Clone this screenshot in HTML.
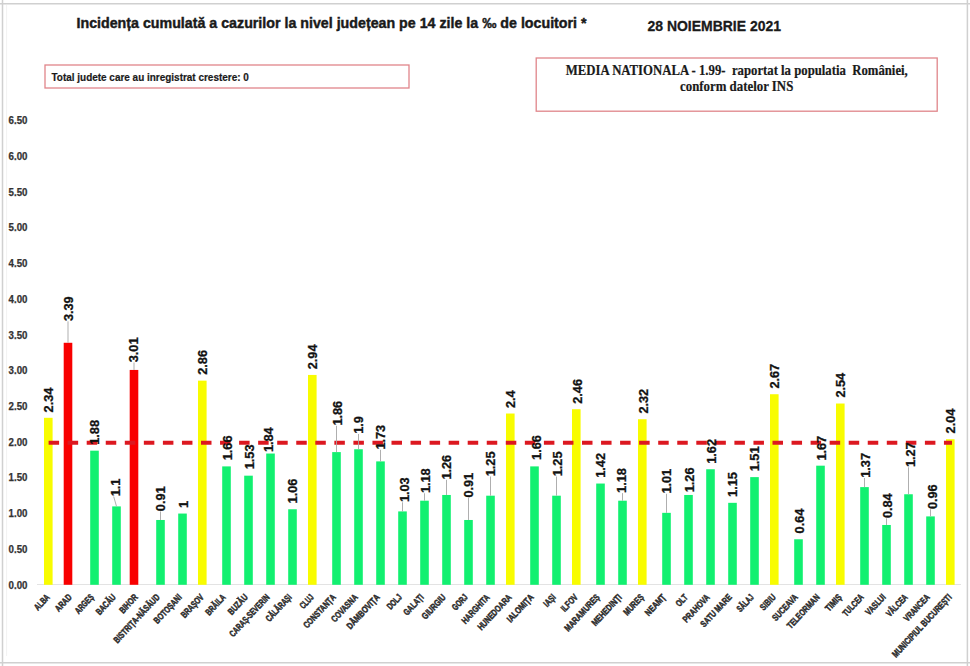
<!DOCTYPE html><html><head><meta charset="utf-8"><style>html,body{margin:0;padding:0;background:#fff;}svg{display:block;}</style></head><body>
<svg width="970" height="666" viewBox="0 0 970 666">
<rect x="0" y="0" width="970" height="666" fill="#fff"/>
<path d="M0 3.7H970M0 662.8H970M2.5 0V666M967.4 0V666" fill="none" stroke="#d0d0d0" stroke-width="1.5"/><line x1="6.6" y1="5" x2="6.6" y2="656" stroke="#f2f2f2" stroke-width="1"/>
<text x="76.5" y="28.3" font-family="Liberation Sans" font-weight="bold" font-size="15.2" fill="#1a1a1a" stroke="#1a1a1a" stroke-width="0.45" textLength="510" lengthAdjust="spacingAndGlyphs">Incidența cumulată a cazurilor la nivel județean pe 14 zile la ‰ de locuitori *</text>
<text x="647.5" y="31.3" font-family="Liberation Sans" font-weight="bold" font-size="14.5" fill="#1a1a1a" stroke="#1a1a1a" stroke-width="0.3" textLength="133.5" lengthAdjust="spacingAndGlyphs">28 NOIEMBRIE 2021</text>
<rect x="45" y="65" width="364" height="23" fill="none" stroke="#e0858a" stroke-width="1.3"/>
<text x="51.5" y="80.7" font-family="Liberation Sans" font-weight="bold" font-size="10.2" fill="#1a1a1a" stroke="#1a1a1a" stroke-width="0.2" textLength="197.3" lengthAdjust="spacingAndGlyphs">Total judete care au inregistrat crestere: 0</text>
<rect x="536.2" y="58" width="401" height="53.2" fill="none" stroke="#e0858a" stroke-width="1.3"/>
<text x="565.8" y="75" font-family="Liberation Serif" font-weight="bold" font-size="14.3" fill="#1a1a1a" stroke="#1a1a1a" stroke-width="0.2" textLength="342" lengthAdjust="spacingAndGlyphs">MEDIA NATIONALA - 1.99-&#160; raportat la populatia&#160; României,</text>
<text x="680" y="90.8" font-family="Liberation Serif" font-weight="bold" font-size="14.3" fill="#1a1a1a" stroke="#1a1a1a" stroke-width="0.2" textLength="113.3" lengthAdjust="spacingAndGlyphs">conform datelor INS</text>
<text x="8.6" y="588.50" font-family="Liberation Sans" font-weight="bold" font-size="10" fill="#333" stroke="#333" stroke-width="0.25" textLength="18.9" lengthAdjust="spacingAndGlyphs">0.00</text>
<text x="8.6" y="552.78" font-family="Liberation Sans" font-weight="bold" font-size="10" fill="#333" stroke="#333" stroke-width="0.25" textLength="18.9" lengthAdjust="spacingAndGlyphs">0.50</text>
<text x="8.6" y="517.07" font-family="Liberation Sans" font-weight="bold" font-size="10" fill="#333" stroke="#333" stroke-width="0.25" textLength="18.9" lengthAdjust="spacingAndGlyphs">1.00</text>
<text x="8.6" y="481.36" font-family="Liberation Sans" font-weight="bold" font-size="10" fill="#333" stroke="#333" stroke-width="0.25" textLength="18.9" lengthAdjust="spacingAndGlyphs">1.50</text>
<text x="8.6" y="445.64" font-family="Liberation Sans" font-weight="bold" font-size="10" fill="#333" stroke="#333" stroke-width="0.25" textLength="18.9" lengthAdjust="spacingAndGlyphs">2.00</text>
<text x="8.6" y="409.92" font-family="Liberation Sans" font-weight="bold" font-size="10" fill="#333" stroke="#333" stroke-width="0.25" textLength="18.9" lengthAdjust="spacingAndGlyphs">2.50</text>
<text x="8.6" y="374.21" font-family="Liberation Sans" font-weight="bold" font-size="10" fill="#333" stroke="#333" stroke-width="0.25" textLength="18.9" lengthAdjust="spacingAndGlyphs">3.00</text>
<text x="8.6" y="338.50" font-family="Liberation Sans" font-weight="bold" font-size="10" fill="#333" stroke="#333" stroke-width="0.25" textLength="18.9" lengthAdjust="spacingAndGlyphs">3.50</text>
<text x="8.6" y="302.78" font-family="Liberation Sans" font-weight="bold" font-size="10" fill="#333" stroke="#333" stroke-width="0.25" textLength="18.9" lengthAdjust="spacingAndGlyphs">4.00</text>
<text x="8.6" y="267.06" font-family="Liberation Sans" font-weight="bold" font-size="10" fill="#333" stroke="#333" stroke-width="0.25" textLength="18.9" lengthAdjust="spacingAndGlyphs">4.50</text>
<text x="8.6" y="231.35" font-family="Liberation Sans" font-weight="bold" font-size="10" fill="#333" stroke="#333" stroke-width="0.25" textLength="18.9" lengthAdjust="spacingAndGlyphs">5.00</text>
<text x="8.6" y="195.63" font-family="Liberation Sans" font-weight="bold" font-size="10" fill="#333" stroke="#333" stroke-width="0.25" textLength="18.9" lengthAdjust="spacingAndGlyphs">5.50</text>
<text x="8.6" y="159.92" font-family="Liberation Sans" font-weight="bold" font-size="10" fill="#333" stroke="#333" stroke-width="0.25" textLength="18.9" lengthAdjust="spacingAndGlyphs">6.00</text>
<text x="8.6" y="124.20" font-family="Liberation Sans" font-weight="bold" font-size="10" fill="#333" stroke="#333" stroke-width="0.25" textLength="18.9" lengthAdjust="spacingAndGlyphs">6.50</text>
<line x1="37" y1="584.5" x2="961" y2="584.5" stroke="#e3e3e3" stroke-width="1"/>
<rect x="44.00" y="417.81" width="8.6" height="166.99" fill="#f8fc00"/>
<rect x="63.70" y="342.78" width="8.6" height="242.02" fill="#f80000"/>
<rect x="90.20" y="450.67" width="8.6" height="134.13" fill="#12f070"/>
<rect x="112.20" y="506.40" width="8.6" height="78.39" fill="#12f070"/>
<rect x="129.70" y="369.94" width="8.6" height="214.86" fill="#f80000"/>
<rect x="156.20" y="519.98" width="8.6" height="64.82" fill="#12f070"/>
<rect x="178.20" y="513.55" width="8.6" height="71.25" fill="#12f070"/>
<rect x="198.00" y="380.65" width="8.6" height="204.15" fill="#f8fc00"/>
<rect x="222.20" y="466.39" width="8.6" height="118.41" fill="#12f070"/>
<rect x="244.20" y="475.68" width="8.6" height="109.12" fill="#12f070"/>
<rect x="266.20" y="453.53" width="8.6" height="131.27" fill="#12f070"/>
<rect x="288.20" y="509.26" width="8.6" height="75.54" fill="#12f070"/>
<rect x="308.00" y="374.94" width="8.6" height="209.86" fill="#f8fc00"/>
<rect x="332.20" y="452.10" width="8.6" height="132.70" fill="#12f070"/>
<rect x="354.20" y="449.25" width="8.6" height="135.55" fill="#12f070"/>
<rect x="376.20" y="461.39" width="8.6" height="123.41" fill="#12f070"/>
<rect x="398.20" y="511.41" width="8.6" height="73.39" fill="#12f070"/>
<rect x="420.20" y="500.69" width="8.6" height="84.11" fill="#12f070"/>
<rect x="442.20" y="494.97" width="8.6" height="89.83" fill="#12f070"/>
<rect x="464.20" y="519.98" width="8.6" height="64.82" fill="#12f070"/>
<rect x="486.20" y="495.69" width="8.6" height="89.11" fill="#12f070"/>
<rect x="506.00" y="413.52" width="8.6" height="171.28" fill="#f8fc00"/>
<rect x="530.20" y="466.39" width="8.6" height="118.41" fill="#12f070"/>
<rect x="552.20" y="495.69" width="8.6" height="89.11" fill="#12f070"/>
<rect x="572.00" y="409.23" width="8.6" height="175.57" fill="#f8fc00"/>
<rect x="596.20" y="483.54" width="8.6" height="101.26" fill="#12f070"/>
<rect x="618.20" y="500.69" width="8.6" height="84.11" fill="#12f070"/>
<rect x="638.00" y="419.24" width="8.6" height="165.56" fill="#f8fc00"/>
<rect x="662.20" y="512.84" width="8.6" height="71.96" fill="#12f070"/>
<rect x="684.20" y="494.97" width="8.6" height="89.83" fill="#12f070"/>
<rect x="706.20" y="469.25" width="8.6" height="115.55" fill="#12f070"/>
<rect x="728.20" y="502.83" width="8.6" height="81.97" fill="#12f070"/>
<rect x="750.20" y="477.11" width="8.6" height="107.69" fill="#12f070"/>
<rect x="770.00" y="394.23" width="8.6" height="190.57" fill="#f8fc00"/>
<rect x="794.20" y="539.27" width="8.6" height="45.53" fill="#12f070"/>
<rect x="816.20" y="465.68" width="8.6" height="119.12" fill="#12f070"/>
<rect x="836.00" y="403.52" width="8.6" height="181.28" fill="#f8fc00"/>
<rect x="860.20" y="487.11" width="8.6" height="97.69" fill="#12f070"/>
<rect x="882.20" y="524.98" width="8.6" height="59.82" fill="#12f070"/>
<rect x="904.20" y="494.26" width="8.6" height="90.54" fill="#12f070"/>
<rect x="926.20" y="516.41" width="8.6" height="68.39" fill="#12f070"/>
<rect x="946.00" y="439.24" width="8.6" height="145.56" fill="#f8fc00"/>
<line x1="48.6" y1="442.8" x2="952" y2="442.8" stroke="#dc1820" stroke-width="3.9" stroke-dasharray="10.5 8.55"/>
<text transform="translate(53.00,412.40) rotate(-90)" font-family="Liberation Sans" font-weight="bold" font-size="12" fill="#111" stroke="#111" stroke-width="0.3" textLength="24.82" lengthAdjust="spacingAndGlyphs">2.34</text>
<line x1="68.00" y1="321.30" x2="68.00" y2="342.78" stroke="#a6a6a6" stroke-width="0.9"/>
<text transform="translate(73.10,321.10) rotate(-90)" font-family="Liberation Sans" font-weight="bold" font-size="12" fill="#111" stroke="#111" stroke-width="0.3" textLength="24.82" lengthAdjust="spacingAndGlyphs">3.39</text>
<text transform="translate(99.30,444.80) rotate(-90)" font-family="Liberation Sans" font-weight="bold" font-size="12" fill="#111" stroke="#111" stroke-width="0.3" textLength="24.82" lengthAdjust="spacingAndGlyphs">1.88</text>
<line x1="113.70" y1="496.50" x2="116.50" y2="506.40" stroke="#a6a6a6" stroke-width="0.9"/>
<text transform="translate(119.50,496.30) rotate(-90)" font-family="Liberation Sans" font-weight="bold" font-size="12" fill="#111" stroke="#111" stroke-width="0.3" textLength="17.72" lengthAdjust="spacingAndGlyphs">1.1</text>
<line x1="134.00" y1="362.50" x2="134.00" y2="369.94" stroke="#a6a6a6" stroke-width="0.9"/>
<text transform="translate(138.40,362.30) rotate(-90)" font-family="Liberation Sans" font-weight="bold" font-size="12" fill="#111" stroke="#111" stroke-width="0.3" textLength="24.82" lengthAdjust="spacingAndGlyphs">3.01</text>
<line x1="160.50" y1="511.40" x2="160.50" y2="519.98" stroke="#a6a6a6" stroke-width="0.9"/>
<text transform="translate(165.30,511.20) rotate(-90)" font-family="Liberation Sans" font-weight="bold" font-size="12" fill="#111" stroke="#111" stroke-width="0.3" textLength="24.82" lengthAdjust="spacingAndGlyphs">0.91</text>
<text transform="translate(187.60,507.90) rotate(-90)" font-family="Liberation Sans" font-weight="bold" font-size="12" fill="#111" stroke="#111" stroke-width="0.3" textLength="7.10" lengthAdjust="spacingAndGlyphs">1</text>
<text transform="translate(207.30,374.80) rotate(-90)" font-family="Liberation Sans" font-weight="bold" font-size="12" fill="#111" stroke="#111" stroke-width="0.3" textLength="24.82" lengthAdjust="spacingAndGlyphs">2.86</text>
<text transform="translate(231.60,460.30) rotate(-90)" font-family="Liberation Sans" font-weight="bold" font-size="12" fill="#111" stroke="#111" stroke-width="0.3" textLength="24.82" lengthAdjust="spacingAndGlyphs">1.66</text>
<text transform="translate(253.70,469.30) rotate(-90)" font-family="Liberation Sans" font-weight="bold" font-size="12" fill="#111" stroke="#111" stroke-width="0.3" textLength="24.82" lengthAdjust="spacingAndGlyphs">1.53</text>
<text transform="translate(273.20,452.10) rotate(-90)" font-family="Liberation Sans" font-weight="bold" font-size="12" fill="#111" stroke="#111" stroke-width="0.3" textLength="24.82" lengthAdjust="spacingAndGlyphs">1.84</text>
<text transform="translate(297.30,503.40) rotate(-90)" font-family="Liberation Sans" font-weight="bold" font-size="12" fill="#111" stroke="#111" stroke-width="0.3" textLength="24.82" lengthAdjust="spacingAndGlyphs">1.06</text>
<text transform="translate(317.10,369.30) rotate(-90)" font-family="Liberation Sans" font-weight="bold" font-size="12" fill="#111" stroke="#111" stroke-width="0.3" textLength="24.82" lengthAdjust="spacingAndGlyphs">2.94</text>
<line x1="336.50" y1="425.80" x2="336.50" y2="452.10" stroke="#a6a6a6" stroke-width="0.9"/>
<text transform="translate(341.60,425.60) rotate(-90)" font-family="Liberation Sans" font-weight="bold" font-size="12" fill="#111" stroke="#111" stroke-width="0.3" textLength="24.82" lengthAdjust="spacingAndGlyphs">1.86</text>
<line x1="358.50" y1="434.00" x2="358.50" y2="449.25" stroke="#a6a6a6" stroke-width="0.9"/>
<text transform="translate(363.30,433.80) rotate(-90)" font-family="Liberation Sans" font-weight="bold" font-size="12" fill="#111" stroke="#111" stroke-width="0.3" textLength="17.72" lengthAdjust="spacingAndGlyphs">1.9</text>
<line x1="380.50" y1="449.80" x2="380.50" y2="461.39" stroke="#a6a6a6" stroke-width="0.9"/>
<text transform="translate(385.10,449.60) rotate(-90)" font-family="Liberation Sans" font-weight="bold" font-size="12" fill="#111" stroke="#111" stroke-width="0.3" textLength="24.82" lengthAdjust="spacingAndGlyphs">1.73</text>
<line x1="402.50" y1="502.30" x2="402.50" y2="511.41" stroke="#a6a6a6" stroke-width="0.9"/>
<text transform="translate(408.80,502.10) rotate(-90)" font-family="Liberation Sans" font-weight="bold" font-size="12" fill="#111" stroke="#111" stroke-width="0.3" textLength="24.82" lengthAdjust="spacingAndGlyphs">1.03</text>
<line x1="424.50" y1="493.30" x2="424.50" y2="500.69" stroke="#a6a6a6" stroke-width="0.9"/>
<text transform="translate(429.80,493.10) rotate(-90)" font-family="Liberation Sans" font-weight="bold" font-size="12" fill="#111" stroke="#111" stroke-width="0.3" textLength="24.82" lengthAdjust="spacingAndGlyphs">1.18</text>
<line x1="446.50" y1="479.80" x2="446.50" y2="494.97" stroke="#a6a6a6" stroke-width="0.9"/>
<text transform="translate(450.80,479.60) rotate(-90)" font-family="Liberation Sans" font-weight="bold" font-size="12" fill="#111" stroke="#111" stroke-width="0.3" textLength="24.82" lengthAdjust="spacingAndGlyphs">1.26</text>
<line x1="468.50" y1="497.80" x2="468.50" y2="519.98" stroke="#a6a6a6" stroke-width="0.9"/>
<text transform="translate(472.60,497.60) rotate(-90)" font-family="Liberation Sans" font-weight="bold" font-size="12" fill="#111" stroke="#111" stroke-width="0.3" textLength="24.82" lengthAdjust="spacingAndGlyphs">0.91</text>
<line x1="490.50" y1="476.50" x2="490.50" y2="495.69" stroke="#a6a6a6" stroke-width="0.9"/>
<text transform="translate(495.30,476.30) rotate(-90)" font-family="Liberation Sans" font-weight="bold" font-size="12" fill="#111" stroke="#111" stroke-width="0.3" textLength="24.82" lengthAdjust="spacingAndGlyphs">1.25</text>
<text transform="translate(515.20,408.10) rotate(-90)" font-family="Liberation Sans" font-weight="bold" font-size="12" fill="#111" stroke="#111" stroke-width="0.3" textLength="17.72" lengthAdjust="spacingAndGlyphs">2.4</text>
<text transform="translate(540.80,459.90) rotate(-90)" font-family="Liberation Sans" font-weight="bold" font-size="12" fill="#111" stroke="#111" stroke-width="0.3" textLength="24.82" lengthAdjust="spacingAndGlyphs">1.66</text>
<line x1="556.50" y1="476.50" x2="556.50" y2="495.69" stroke="#a6a6a6" stroke-width="0.9"/>
<text transform="translate(561.80,476.30) rotate(-90)" font-family="Liberation Sans" font-weight="bold" font-size="12" fill="#111" stroke="#111" stroke-width="0.3" textLength="24.82" lengthAdjust="spacingAndGlyphs">1.25</text>
<text transform="translate(581.60,403.80) rotate(-90)" font-family="Liberation Sans" font-weight="bold" font-size="12" fill="#111" stroke="#111" stroke-width="0.3" textLength="24.82" lengthAdjust="spacingAndGlyphs">2.46</text>
<text transform="translate(605.30,477.80) rotate(-90)" font-family="Liberation Sans" font-weight="bold" font-size="12" fill="#111" stroke="#111" stroke-width="0.3" textLength="24.82" lengthAdjust="spacingAndGlyphs">1.42</text>
<line x1="622.50" y1="493.10" x2="622.50" y2="500.69" stroke="#a6a6a6" stroke-width="0.9"/>
<text transform="translate(626.30,492.90) rotate(-90)" font-family="Liberation Sans" font-weight="bold" font-size="12" fill="#111" stroke="#111" stroke-width="0.3" textLength="24.82" lengthAdjust="spacingAndGlyphs">1.18</text>
<text transform="translate(647.60,413.60) rotate(-90)" font-family="Liberation Sans" font-weight="bold" font-size="12" fill="#111" stroke="#111" stroke-width="0.3" textLength="24.82" lengthAdjust="spacingAndGlyphs">2.32</text>
<line x1="666.50" y1="493.80" x2="666.50" y2="512.84" stroke="#a6a6a6" stroke-width="0.9"/>
<text transform="translate(671.40,493.60) rotate(-90)" font-family="Liberation Sans" font-weight="bold" font-size="12" fill="#111" stroke="#111" stroke-width="0.3" textLength="24.82" lengthAdjust="spacingAndGlyphs">1.01</text>
<text transform="translate(693.80,492.30) rotate(-90)" font-family="Liberation Sans" font-weight="bold" font-size="12" fill="#111" stroke="#111" stroke-width="0.3" textLength="24.82" lengthAdjust="spacingAndGlyphs">1.26</text>
<text transform="translate(715.60,463.80) rotate(-90)" font-family="Liberation Sans" font-weight="bold" font-size="12" fill="#111" stroke="#111" stroke-width="0.3" textLength="24.82" lengthAdjust="spacingAndGlyphs">1.62</text>
<text transform="translate(737.40,496.90) rotate(-90)" font-family="Liberation Sans" font-weight="bold" font-size="12" fill="#111" stroke="#111" stroke-width="0.3" textLength="24.82" lengthAdjust="spacingAndGlyphs">1.15</text>
<text transform="translate(759.10,471.30) rotate(-90)" font-family="Liberation Sans" font-weight="bold" font-size="12" fill="#111" stroke="#111" stroke-width="0.3" textLength="24.82" lengthAdjust="spacingAndGlyphs">1.51</text>
<text transform="translate(779.30,388.60) rotate(-90)" font-family="Liberation Sans" font-weight="bold" font-size="12" fill="#111" stroke="#111" stroke-width="0.3" textLength="24.82" lengthAdjust="spacingAndGlyphs">2.67</text>
<text transform="translate(803.60,533.40) rotate(-90)" font-family="Liberation Sans" font-weight="bold" font-size="12" fill="#111" stroke="#111" stroke-width="0.3" textLength="24.82" lengthAdjust="spacingAndGlyphs">0.64</text>
<text transform="translate(826.10,460.60) rotate(-90)" font-family="Liberation Sans" font-weight="bold" font-size="12" fill="#111" stroke="#111" stroke-width="0.3" textLength="24.82" lengthAdjust="spacingAndGlyphs">1.67</text>
<text transform="translate(845.40,397.60) rotate(-90)" font-family="Liberation Sans" font-weight="bold" font-size="12" fill="#111" stroke="#111" stroke-width="0.3" textLength="24.82" lengthAdjust="spacingAndGlyphs">2.54</text>
<line x1="864.50" y1="478.00" x2="864.50" y2="487.11" stroke="#a6a6a6" stroke-width="0.9"/>
<text transform="translate(869.60,477.80) rotate(-90)" font-family="Liberation Sans" font-weight="bold" font-size="12" fill="#111" stroke="#111" stroke-width="0.3" textLength="24.82" lengthAdjust="spacingAndGlyphs">1.37</text>
<line x1="886.50" y1="518.30" x2="886.50" y2="524.98" stroke="#a6a6a6" stroke-width="0.9"/>
<text transform="translate(891.60,518.10) rotate(-90)" font-family="Liberation Sans" font-weight="bold" font-size="12" fill="#111" stroke="#111" stroke-width="0.3" textLength="24.82" lengthAdjust="spacingAndGlyphs">0.84</text>
<line x1="908.50" y1="467.30" x2="908.50" y2="494.26" stroke="#a6a6a6" stroke-width="0.9"/>
<text transform="translate(914.80,467.10) rotate(-90)" font-family="Liberation Sans" font-weight="bold" font-size="12" fill="#111" stroke="#111" stroke-width="0.3" textLength="24.82" lengthAdjust="spacingAndGlyphs">1.27</text>
<line x1="930.50" y1="509.30" x2="930.50" y2="516.41" stroke="#a6a6a6" stroke-width="0.9"/>
<text transform="translate(936.60,509.10) rotate(-90)" font-family="Liberation Sans" font-weight="bold" font-size="12" fill="#111" stroke="#111" stroke-width="0.3" textLength="24.82" lengthAdjust="spacingAndGlyphs">0.96</text>
<text transform="translate(955.30,433.40) rotate(-90)" font-family="Liberation Sans" font-weight="bold" font-size="12" fill="#111" stroke="#111" stroke-width="0.3" textLength="24.82" lengthAdjust="spacingAndGlyphs">2.04</text>
<text transform="translate(50.30,597.70) rotate(-47)" text-anchor="end" font-family="Liberation Sans" font-weight="bold" font-size="9.2" fill="#2a2a2a" stroke="#2a2a2a" stroke-width="0.5" textLength="18.07" lengthAdjust="spacingAndGlyphs">ALBA</text>
<text transform="translate(72.30,597.70) rotate(-47)" text-anchor="end" font-family="Liberation Sans" font-weight="bold" font-size="9.2" fill="#2a2a2a" stroke="#2a2a2a" stroke-width="0.5" textLength="19.81" lengthAdjust="spacingAndGlyphs">ARAD</text>
<text transform="translate(94.30,597.70) rotate(-47)" text-anchor="end" font-family="Liberation Sans" font-weight="bold" font-size="9.2" fill="#2a2a2a" stroke="#2a2a2a" stroke-width="0.5" textLength="22.84" lengthAdjust="spacingAndGlyphs">ARGEȘ</text>
<text transform="translate(116.30,597.70) rotate(-47)" text-anchor="end" font-family="Liberation Sans" font-weight="bold" font-size="9.2" fill="#2a2a2a" stroke="#2a2a2a" stroke-width="0.5" textLength="24.34" lengthAdjust="spacingAndGlyphs">BACĂU</text>
<text transform="translate(138.30,597.70) rotate(-47)" text-anchor="end" font-family="Liberation Sans" font-weight="bold" font-size="9.2" fill="#2a2a2a" stroke="#2a2a2a" stroke-width="0.5" textLength="22.20" lengthAdjust="spacingAndGlyphs">BIHOR</text>
<text transform="translate(160.30,597.70) rotate(-47)" text-anchor="end" font-family="Liberation Sans" font-weight="bold" font-size="9.2" fill="#2a2a2a" stroke="#2a2a2a" stroke-width="0.5" textLength="62.93" lengthAdjust="spacingAndGlyphs">BISTRIȚA-NĂSĂUD</text>
<text transform="translate(182.30,597.70) rotate(-47)" text-anchor="end" font-family="Liberation Sans" font-weight="bold" font-size="9.2" fill="#2a2a2a" stroke="#2a2a2a" stroke-width="0.5" textLength="36.25" lengthAdjust="spacingAndGlyphs">BOTOȘANI</text>
<text transform="translate(204.30,597.70) rotate(-47)" text-anchor="end" font-family="Liberation Sans" font-weight="bold" font-size="9.2" fill="#2a2a2a" stroke="#2a2a2a" stroke-width="0.5" textLength="28.61" lengthAdjust="spacingAndGlyphs">BRAȘOV</text>
<text transform="translate(226.30,597.70) rotate(-47)" text-anchor="end" font-family="Liberation Sans" font-weight="bold" font-size="9.2" fill="#2a2a2a" stroke="#2a2a2a" stroke-width="0.5" textLength="24.88" lengthAdjust="spacingAndGlyphs">BRĂILA</text>
<text transform="translate(248.30,597.70) rotate(-47)" text-anchor="end" font-family="Liberation Sans" font-weight="bold" font-size="9.2" fill="#2a2a2a" stroke="#2a2a2a" stroke-width="0.5" textLength="24.29" lengthAdjust="spacingAndGlyphs">BUZĂU</text>
<text transform="translate(270.30,597.70) rotate(-47)" text-anchor="end" font-family="Liberation Sans" font-weight="bold" font-size="9.2" fill="#2a2a2a" stroke="#2a2a2a" stroke-width="0.5" textLength="54.43" lengthAdjust="spacingAndGlyphs">CARAȘ-SEVERIN</text>
<text transform="translate(292.30,597.70) rotate(-47)" text-anchor="end" font-family="Liberation Sans" font-weight="bold" font-size="9.2" fill="#2a2a2a" stroke="#2a2a2a" stroke-width="0.5" textLength="33.54" lengthAdjust="spacingAndGlyphs">CĂLĂRAȘI</text>
<text transform="translate(314.30,597.70) rotate(-47)" text-anchor="end" font-family="Liberation Sans" font-weight="bold" font-size="9.2" fill="#2a2a2a" stroke="#2a2a2a" stroke-width="0.5" textLength="15.93" lengthAdjust="spacingAndGlyphs">CLUJ</text>
<text transform="translate(336.30,597.70) rotate(-47)" text-anchor="end" font-family="Liberation Sans" font-weight="bold" font-size="9.2" fill="#2a2a2a" stroke="#2a2a2a" stroke-width="0.5" textLength="42.61" lengthAdjust="spacingAndGlyphs">CONSTANȚA</text>
<text transform="translate(358.30,597.70) rotate(-47)" text-anchor="end" font-family="Liberation Sans" font-weight="bold" font-size="9.2" fill="#2a2a2a" stroke="#2a2a2a" stroke-width="0.5" textLength="34.10" lengthAdjust="spacingAndGlyphs">COVASNA</text>
<text transform="translate(380.30,597.70) rotate(-47)" text-anchor="end" font-family="Liberation Sans" font-weight="bold" font-size="9.2" fill="#2a2a2a" stroke="#2a2a2a" stroke-width="0.5" textLength="43.70" lengthAdjust="spacingAndGlyphs">DÂMBOVIȚA</text>
<text transform="translate(402.30,597.70) rotate(-47)" text-anchor="end" font-family="Liberation Sans" font-weight="bold" font-size="9.2" fill="#2a2a2a" stroke="#2a2a2a" stroke-width="0.5" textLength="16.99" lengthAdjust="spacingAndGlyphs">DOLJ</text>
<text transform="translate(424.30,597.70) rotate(-47)" text-anchor="end" font-family="Liberation Sans" font-weight="bold" font-size="9.2" fill="#2a2a2a" stroke="#2a2a2a" stroke-width="0.5" textLength="24.99" lengthAdjust="spacingAndGlyphs">GALAȚI</text>
<text transform="translate(446.30,597.70) rotate(-47)" text-anchor="end" font-family="Liberation Sans" font-weight="bold" font-size="9.2" fill="#2a2a2a" stroke="#2a2a2a" stroke-width="0.5" textLength="30.33" lengthAdjust="spacingAndGlyphs">GIURGIU</text>
<text transform="translate(468.30,597.70) rotate(-47)" text-anchor="end" font-family="Liberation Sans" font-weight="bold" font-size="9.2" fill="#2a2a2a" stroke="#2a2a2a" stroke-width="0.5" textLength="18.22" lengthAdjust="spacingAndGlyphs">GORJ</text>
<text transform="translate(490.30,597.70) rotate(-47)" text-anchor="end" font-family="Liberation Sans" font-weight="bold" font-size="9.2" fill="#2a2a2a" stroke="#2a2a2a" stroke-width="0.5" textLength="36.53" lengthAdjust="spacingAndGlyphs">HARGHITA</text>
<text transform="translate(512.30,597.70) rotate(-47)" text-anchor="end" font-family="Liberation Sans" font-weight="bold" font-size="9.2" fill="#2a2a2a" stroke="#2a2a2a" stroke-width="0.5" textLength="45.33" lengthAdjust="spacingAndGlyphs">HUNEDOARA</text>
<text transform="translate(534.30,597.70) rotate(-47)" text-anchor="end" font-family="Liberation Sans" font-weight="bold" font-size="9.2" fill="#2a2a2a" stroke="#2a2a2a" stroke-width="0.5" textLength="34.63" lengthAdjust="spacingAndGlyphs">IALOMIȚA</text>
<text transform="translate(556.30,597.70) rotate(-47)" text-anchor="end" font-family="Liberation Sans" font-weight="bold" font-size="9.2" fill="#2a2a2a" stroke="#2a2a2a" stroke-width="0.5" textLength="13.30" lengthAdjust="spacingAndGlyphs">IAȘI</text>
<text transform="translate(578.30,597.70) rotate(-47)" text-anchor="end" font-family="Liberation Sans" font-weight="bold" font-size="9.2" fill="#2a2a2a" stroke="#2a2a2a" stroke-width="0.5" textLength="19.94" lengthAdjust="spacingAndGlyphs">ILFOV</text>
<text transform="translate(600.30,597.70) rotate(-47)" text-anchor="end" font-family="Liberation Sans" font-weight="bold" font-size="9.2" fill="#2a2a2a" stroke="#2a2a2a" stroke-width="0.5" textLength="46.84" lengthAdjust="spacingAndGlyphs">MARAMUREȘ</text>
<text transform="translate(622.30,597.70) rotate(-47)" text-anchor="end" font-family="Liberation Sans" font-weight="bold" font-size="9.2" fill="#2a2a2a" stroke="#2a2a2a" stroke-width="0.5" textLength="39.44" lengthAdjust="spacingAndGlyphs">MEHEDINȚI</text>
<text transform="translate(644.30,597.70) rotate(-47)" text-anchor="end" font-family="Liberation Sans" font-weight="bold" font-size="9.2" fill="#2a2a2a" stroke="#2a2a2a" stroke-width="0.5" textLength="25.08" lengthAdjust="spacingAndGlyphs">MUREȘ</text>
<text transform="translate(666.30,597.70) rotate(-47)" text-anchor="end" font-family="Liberation Sans" font-weight="bold" font-size="9.2" fill="#2a2a2a" stroke="#2a2a2a" stroke-width="0.5" textLength="25.58" lengthAdjust="spacingAndGlyphs">NEAMȚ</text>
<text transform="translate(688.30,597.70) rotate(-47)" text-anchor="end" font-family="Liberation Sans" font-weight="bold" font-size="9.2" fill="#2a2a2a" stroke="#2a2a2a" stroke-width="0.5" textLength="13.08" lengthAdjust="spacingAndGlyphs">OLT</text>
<text transform="translate(710.30,597.70) rotate(-47)" text-anchor="end" font-family="Liberation Sans" font-weight="bold" font-size="9.2" fill="#2a2a2a" stroke="#2a2a2a" stroke-width="0.5" textLength="34.73" lengthAdjust="spacingAndGlyphs">PRAHOVA</text>
<text transform="translate(732.30,597.70) rotate(-47)" text-anchor="end" font-family="Liberation Sans" font-weight="bold" font-size="9.2" fill="#2a2a2a" stroke="#2a2a2a" stroke-width="0.5" textLength="40.96" lengthAdjust="spacingAndGlyphs">SATU MARE</text>
<text transform="translate(754.30,597.70) rotate(-47)" text-anchor="end" font-family="Liberation Sans" font-weight="bold" font-size="9.2" fill="#2a2a2a" stroke="#2a2a2a" stroke-width="0.5" textLength="20.09" lengthAdjust="spacingAndGlyphs">SĂLAJ</text>
<text transform="translate(776.30,597.70) rotate(-47)" text-anchor="end" font-family="Liberation Sans" font-weight="bold" font-size="9.2" fill="#2a2a2a" stroke="#2a2a2a" stroke-width="0.5" textLength="18.28" lengthAdjust="spacingAndGlyphs">SIBIU</text>
<text transform="translate(798.30,597.70) rotate(-47)" text-anchor="end" font-family="Liberation Sans" font-weight="bold" font-size="9.2" fill="#2a2a2a" stroke="#2a2a2a" stroke-width="0.5" textLength="32.56" lengthAdjust="spacingAndGlyphs">SUCEAVA</text>
<text transform="translate(820.30,597.70) rotate(-47)" text-anchor="end" font-family="Liberation Sans" font-weight="bold" font-size="9.2" fill="#2a2a2a" stroke="#2a2a2a" stroke-width="0.5" textLength="43.26" lengthAdjust="spacingAndGlyphs">TELEORMAN</text>
<text transform="translate(842.30,597.70) rotate(-47)" text-anchor="end" font-family="Liberation Sans" font-weight="bold" font-size="9.2" fill="#2a2a2a" stroke="#2a2a2a" stroke-width="0.5" textLength="19.51" lengthAdjust="spacingAndGlyphs">TIMIȘ</text>
<text transform="translate(864.30,597.70) rotate(-47)" text-anchor="end" font-family="Liberation Sans" font-weight="bold" font-size="9.2" fill="#2a2a2a" stroke="#2a2a2a" stroke-width="0.5" textLength="26.26" lengthAdjust="spacingAndGlyphs">TULCEA</text>
<text transform="translate(886.30,597.70) rotate(-47)" text-anchor="end" font-family="Liberation Sans" font-weight="bold" font-size="9.2" fill="#2a2a2a" stroke="#2a2a2a" stroke-width="0.5" textLength="24.83" lengthAdjust="spacingAndGlyphs">VASLUI</text>
<text transform="translate(908.30,597.70) rotate(-47)" text-anchor="end" font-family="Liberation Sans" font-weight="bold" font-size="9.2" fill="#2a2a2a" stroke="#2a2a2a" stroke-width="0.5" textLength="26.76" lengthAdjust="spacingAndGlyphs">VÂLCEA</text>
<text transform="translate(930.30,597.70) rotate(-47)" text-anchor="end" font-family="Liberation Sans" font-weight="bold" font-size="9.2" fill="#2a2a2a" stroke="#2a2a2a" stroke-width="0.5" textLength="33.25" lengthAdjust="spacingAndGlyphs">VRANCEA</text>
<text transform="translate(952.30,597.70) rotate(-47)" text-anchor="end" font-family="Liberation Sans" font-weight="bold" font-size="9.2" fill="#2a2a2a" stroke="#2a2a2a" stroke-width="0.5" textLength="82.50" lengthAdjust="spacingAndGlyphs">MUNICIPIUL BUCUREȘTI</text>
</svg></body></html>
